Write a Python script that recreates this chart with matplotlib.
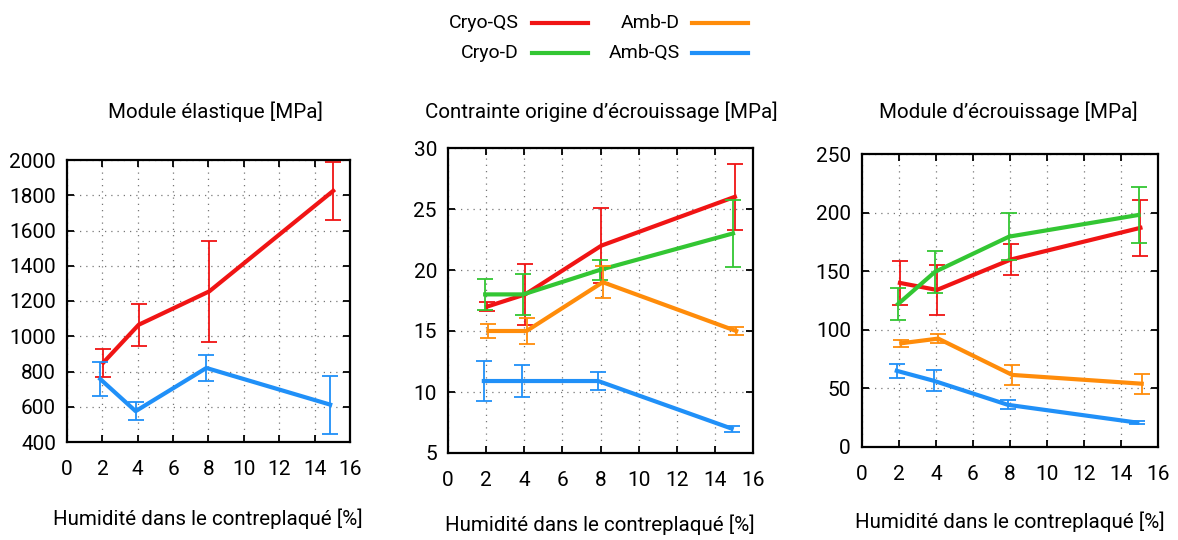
import numpy as np
import matplotlib.pyplot as plt
from matplotlib.lines import Line2D

plt.rcParams['font.family'] = ['Roboto', 'DejaVu Sans']

# %% Data
humidity = [2, 4, 8, 15]
series = ['Cryo-QS', 'Cryo-D', 'Amb-D', 'Amb-QS']
colors = {'Cryo-QS': '#f01414', 'Cryo-D': '#33c633',
          'Amb-D': '#ff8c0a', 'Amb-QS': '#2090f8'}
x_shift = {'Cryo-QS': 0.05, 'Cryo-D': -0.05, 'Amb-D': 0.12, 'Amb-QS': -0.12}

titles = ['Module élastique [MPa]',
          'Contrainte origine d\u2019écrouissage [MPa]',
          'Module d\u2019écrouissage [MPa]']
xlabel = 'Humidité dans le contreplaqué [%]'

# module elastique (only Cryo-QS and Amb-QS)
elas_cryo_qs = [850, 1065, 1255, 1825]
elas_cryo_qs_err = [80, 118, 285, 165]
elas_amb_qs = [757, 575, 820, 612]
elas_amb_qs_err = [97, 53, 73, 165]

# contrainte origine d'ecrouissage
contr_cryo_qs = [17.0, 18.0, 22.0, 26.0]
contr_cryo_qs_err = [0.35, 2.5, 3.1, 2.7]
contr_cryo_d = [18.0, 18.0, 20.0, 23.0]
contr_cryo_d_err = [1.3, 1.65, 0.8, 2.75]
contr_amb_d = [15.0, 15.0, 19.0, 15.0]
contr_amb_d_err = [0.6, 1.05, 1.3, 0.3]
contr_amb_qs = [10.9, 10.9, 10.9, 7.0]
contr_amb_qs_err = [1.65, 1.3, 0.7, 0.25]

# module d'ecrouissage
ecr_cryo_qs = [140, 134, 160, 187]
ecr_cryo_qs_err = [19, 21, 13.5, 24]
ecr_cryo_d = [122, 149.5, 179.5, 198]
ecr_cryo_d_err = [13.5, 18, 20, 24]
ecr_amb_d = [88.5, 92.5, 61.5, 54]
ecr_amb_d_err = [3, 4, 8.8, 8.7]
ecr_amb_qs = [65, 56.5, 36, 20.8]
ecr_amb_qs_err = [5.7, 8.8, 4, 1.4]

panels = [
    {'Cryo-QS': (elas_cryo_qs, elas_cryo_qs_err),
     'Amb-QS': (elas_amb_qs, elas_amb_qs_err)},
    {'Cryo-QS': (contr_cryo_qs, contr_cryo_qs_err),
     'Cryo-D': (contr_cryo_d, contr_cryo_d_err),
     'Amb-D': (contr_amb_d, contr_amb_d_err),
     'Amb-QS': (contr_amb_qs, contr_amb_qs_err)},
    {'Cryo-QS': (ecr_cryo_qs, ecr_cryo_qs_err),
     'Cryo-D': (ecr_cryo_d, ecr_cryo_d_err),
     'Amb-D': (ecr_amb_d, ecr_amb_d_err),
     'Amb-QS': (ecr_amb_qs, ecr_amb_qs_err)},
]
y_ranges = [(400, 2000, 200), (5, 30, 5), (0, 250, 50)]

# %% Layout (pixels: left, top, right, bottom)
W, H = 1178, 540
boxes = [(67, 160, 350, 442), (448, 148, 753, 453), (862, 154, 1158, 447)]
title_pos = [(215, 112), (601, 112), (1008, 112)]
xlabel_pos = [(208, 519), (600, 525), (1010, 522)]
FS = 14.8      # titles / axis labels
FS_TICK = 15
FS_LEG = 14

fig = plt.figure(figsize=(W / 100, H / 100), dpi=100)

for i, (l, t, r, b) in enumerate(boxes):
    ax = fig.add_axes([l / W, 1 - b / H, (r - l) / W, (b - t) / H])
    for name in series:
        if name not in panels[i]:
            continue
        y, err = panels[i][name]
        x = np.array(humidity) + x_shift[name]
        ax.errorbar(x, y, yerr=err, fmt='none', ecolor=colors[name],
                    elinewidth=1.3, capsize=5.5, capthick=1.3)
        ax.plot(x, y, '-', color=colors[name], linewidth=3.0)
    y0, y1, step = y_ranges[i]
    ax.set_xlim(0, 16)
    ax.set_ylim(y0, y1)
    ax.set_xticks(np.arange(0, 17, 2))
    ax.set_yticks(np.arange(y0, y1 + step / 2, step))
    ax.tick_params(direction='in', length=5, width=1.3, top=True,
                   right=True, labelsize=FS_TICK, pad=8)
    ax.tick_params(axis='x', pad=13)
    ax.grid(True, color='#777777', linestyle=(0, (1, 4)), linewidth=0.9)
    for sp in ax.spines.values():
        sp.set_linewidth(1.6)
    tx, ty = title_pos[i]
    fig.text(tx / W, 1 - ty / H, titles[i], ha='center', va='center',
             fontsize=FS)
    lx, ly = xlabel_pos[i]
    fig.text(lx / W, 1 - ly / H, xlabel, ha='center', va='center',
             fontsize=FS)

# %% Legend (gnuplot style: right aligned text then line sample)
legend_slots = [(519, 23, 532, 588), (519, 53, 532, 588),
                (680, 23, 692, 748), (680, 53, 692, 748)]
legend_order = ['Cryo-QS', 'Cryo-D', 'Amb-D', 'Amb-QS']
for name, (tx, ty, x0, x1) in zip(legend_order, legend_slots):
    fig.text(tx / W, 1 - ty / H, name, ha='right', va='center',
             fontsize=FS_LEG)
    fig.add_artist(Line2D([x0 / W, x1 / W], [1 - ty / H, 1 - ty / H],
                          color=colors[name], linewidth=3.0,
                          transform=fig.transFigure))

fig.savefig('out.png', dpi=100)
